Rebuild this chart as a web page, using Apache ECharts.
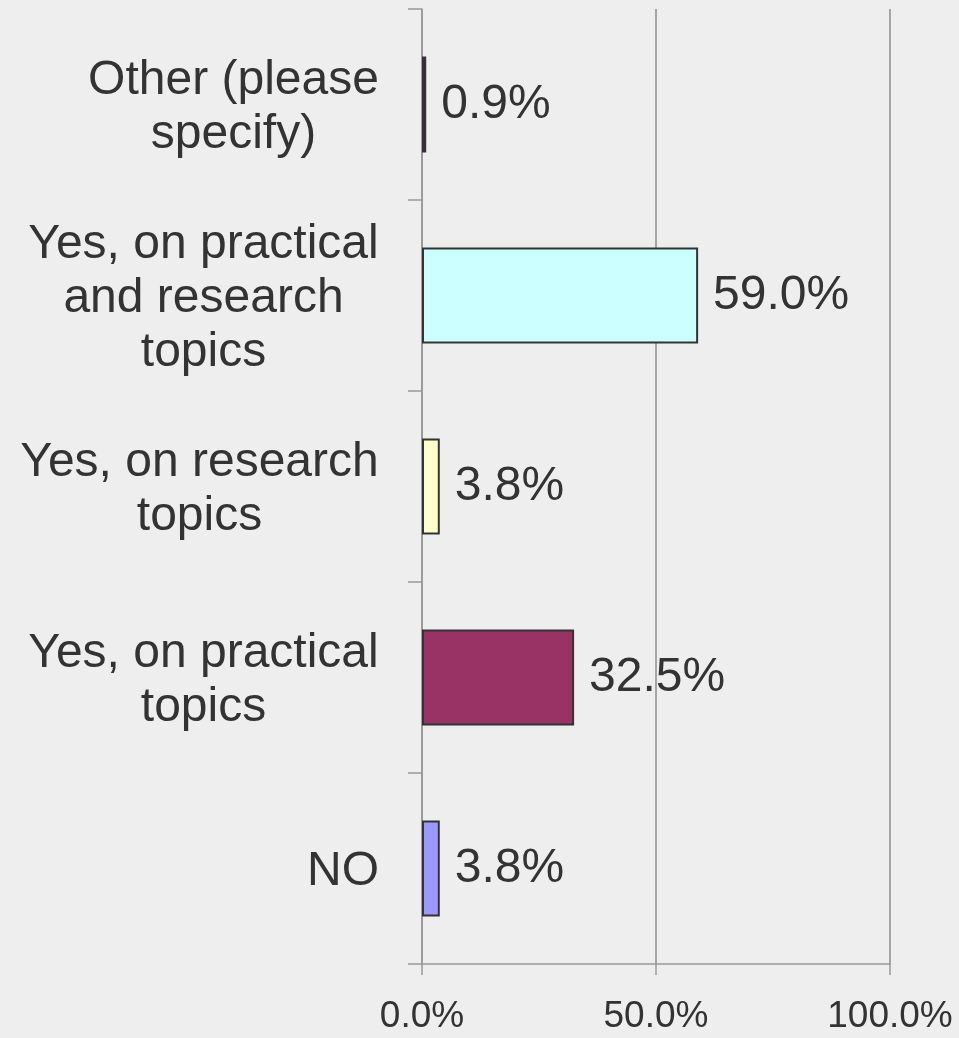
<!DOCTYPE html>
<html lang="en" style="height: 100%">
<head>
  <meta charset="utf-8">
</head>
<body style="height: 100%; margin: 0; background: #eeeeee">
  <div id="container" style="width: 959px; height: 1038px"></div>
  <script type="text/javascript" src="https://fastly.jsdelivr.net/npm/echarts@6.0.0/dist/echarts.min.js"></script>
  <script type="text/javascript">
    // categories from bottom to top
    var categories = ['NO', 'Yes, on practical\ntopics', 'Yes, on research\ntopics', 'Yes, on practical\nand research\ntopics', 'Other (please\nspecify)'];
    var values = [3.8, 32.5, 3.8, 59.0, 0.9];
    var barColors = ['#9999ff', '#993366', '#ffffcc', '#ccffff', '#660066'];
    var xTicks = [0, 50, 100];

    var fontFamily = '"Liberation Sans", Arial, sans-serif';
    var catFont = 48;

    // measure widest line so lines are centred in a right-aligned block
    var ctx = document.createElement('canvas').getContext('2d');
    ctx.font = catFont + 'px ' + fontFamily;
    function widest(s) {
      return Math.max.apply(null, s.split('\n').map(function (l) { return ctx.measureText(l).width; }));
    }
    var catRich = {};
    categories.forEach(function (c, i) {
      catRich['c' + i] = {
        width: Math.ceil(widest(c)) + 2,
        align: 'center',
        fontSize: catFont,
        lineHeight: 54,
        fontFamily: fontFamily,
        color: '#333333'
      };
    });

    var dom = document.getElementById('container');
    var myChart = echarts.init(dom, null, { renderer: 'canvas' });

    var option = {
      backgroundColor: '#eeeeee',
      animation: false,
      grid: { left: 422, right: 69, top: 9, bottom: 74, containLabel: false, outerBoundsMode: 'none' },
      xAxis: {
        type: 'value',
        min: xTicks[0],
        max: xTicks[xTicks.length - 1],
        interval: xTicks[1] - xTicks[0],
        axisLine: { show: true, lineStyle: { color: '#999999', width: 1.5 } },
        axisTick: { show: true, length: 11, lineStyle: { color: '#999999', width: 1.5 } },
        splitLine: { show: true, lineStyle: { color: '#8c8c8c', width: 1.5 } },
        axisLabel: {
          margin: 34,
          fontSize: 37,
          fontFamily: fontFamily,
          color: '#333333',
          hideOverlap: false,
          showMinLabel: true,
          showMaxLabel: true,
          formatter: function (v) { return v.toFixed(1) + '%'; }
        }
      },
      yAxis: {
        type: 'category',
        data: categories,
        axisLine: { show: true, lineStyle: { color: '#999999', width: 1.5 } },
        axisTick: { show: true, length: 14, lineStyle: { color: '#999999', width: 1.5 } },
        axisLabel: {
          margin: 42,
          align: 'right',
          interval: 0,
          padding: [6, 0, 0, 0],
          fontSize: catFont,
          lineHeight: 54,
          fontFamily: fontFamily,
          color: '#333333',
          rich: catRich,
          formatter: function (v, i) {
            return v.split('\n').map(function (l) { return '{c' + i + '|' + l + '}'; }).join('\n');
          }
        }
      },
      series: [{
        type: 'bar',
        barWidth: 96,
        data: values.map(function (v, i) {
          return { value: v, itemStyle: { color: barColors[i] } };
        }),
        itemStyle: { borderColor: '#333333', borderWidth: 2 },
        label: {
          show: true,
          position: 'right',
          distance: 15,
          fontSize: 48,
          padding: [5, 0, 0, 0],
          fontFamily: fontFamily,
          color: '#333333',
          formatter: function (p) { return p.value.toFixed(1) + '%'; }
        }
      }]
    };

    myChart.setOption(option);
    window.addEventListener('resize', myChart.resize);
  </script>
</body>
</html>
